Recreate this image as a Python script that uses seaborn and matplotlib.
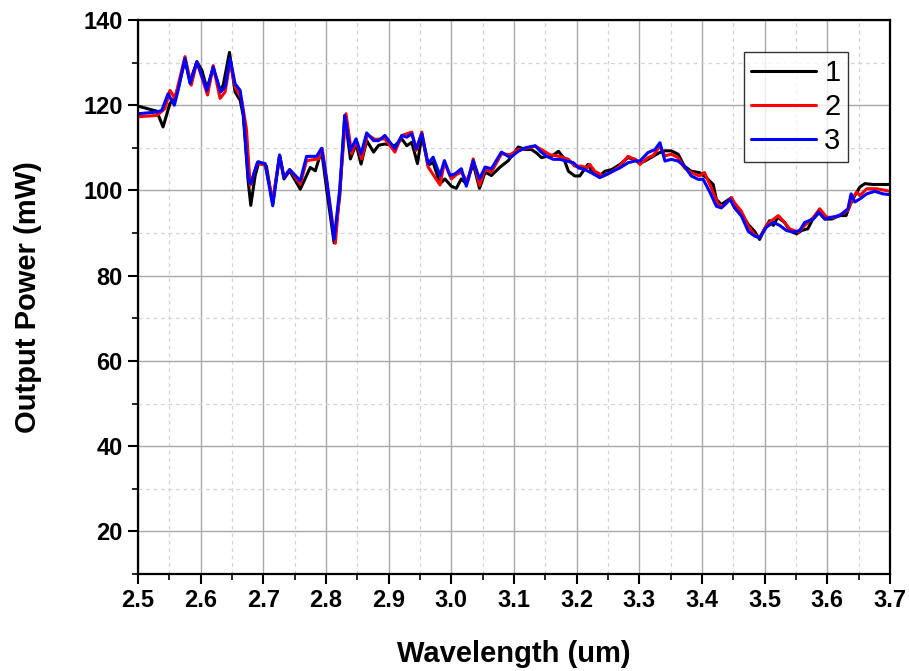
import matplotlib
matplotlib.use("Agg")
import matplotlib.pyplot as plt
from matplotlib.ticker import MultipleLocator, FormatStrFormatter
import numpy as np
import pandas as pd
import seaborn as sns

# Output power spectra for three measurements
wl_1 = [2.500, 2.530, 2.540, 2.551, 2.558, 2.564, 2.575, 2.583, 2.594, 2.602, 2.610, 2.620,
        2.631, 2.636, 2.646, 2.655, 2.663, 2.668, 2.676, 2.680, 2.687, 2.693, 2.705, 2.715,
        2.726, 2.733, 2.742, 2.759, 2.775, 2.783, 2.793, 2.801, 2.813, 2.822, 2.830, 2.839,
        2.848, 2.856, 2.865, 2.876, 2.884, 2.894, 2.910, 2.921, 2.929, 2.937, 2.946, 2.953,
        2.963, 2.971, 2.982, 2.990, 3.000, 3.008, 3.016, 3.024, 3.035, 3.045, 3.054, 3.064,
        3.078, 3.091, 3.107, 3.118, 3.128, 3.136, 3.144, 3.152, 3.160, 3.171, 3.179, 3.187,
        3.197, 3.205, 3.218, 3.226, 3.237, 3.245, 3.256, 3.269, 3.282, 3.293, 3.301, 3.309,
        3.323, 3.333, 3.341, 3.351, 3.362, 3.372, 3.383, 3.396, 3.407, 3.418, 3.423, 3.431,
        3.447, 3.452, 3.463, 3.474, 3.484, 3.492, 3.500, 3.508, 3.514, 3.521, 3.532, 3.540,
        3.551, 3.559, 3.569, 3.577, 3.588, 3.596, 3.607, 3.620, 3.630, 3.636, 3.644, 3.652,
        3.660, 3.673, 3.700]
power_1 = [119.8, 118.6, 114.9, 120.4, 121.6, 123.9, 130.6, 125.5, 130.2, 128.2, 123.9, 128.6,
           123.5, 124.7, 132.4, 123.1, 121.2, 117.6, 102.0, 96.5, 103.5, 106.7, 105.7, 96.8,
           108.2, 102.7, 104.6, 100.3, 105.4, 104.6, 109.4, 100.3, 87.7, 98.7, 117.6, 107.4,
           110.9, 106.2, 111.7, 109.0, 110.6, 110.9, 110.5, 112.1, 110.5, 111.3, 106.3, 112.9,
           105.9, 106.6, 101.6, 102.7, 101.0, 100.5, 102.7, 101.6, 106.3, 100.5, 104.3, 103.5,
           105.5, 107.0, 110.2, 109.6, 109.6, 108.8, 107.7, 108.0, 108.0, 109.2, 107.7, 104.5,
           103.4, 103.4, 106.1, 104.1, 103.4, 104.5, 104.9, 106.1, 107.7, 107.3, 106.5, 106.9,
           108.1, 108.9, 109.3, 109.3, 108.5, 105.7, 104.5, 104.2, 103.0, 101.4, 97.9, 96.7,
           98.3, 96.7, 94.7, 92.0, 90.4, 88.5, 91.0, 92.9, 91.8, 93.7, 92.5, 90.6,
           89.8, 90.6, 91.0, 93.3, 94.9, 93.3, 93.3, 94.1, 94.1, 96.5, 98.8, 100.8,
           101.6, 101.4, 101.4]

wl_2 = [2.500, 2.530, 2.543, 2.551, 2.559, 2.575, 2.585, 2.594, 2.611, 2.620, 2.631, 2.639,
        2.647, 2.655, 2.665, 2.673, 2.679, 2.690, 2.703, 2.715, 2.726, 2.733, 2.742, 2.759,
        2.769, 2.788, 2.794, 2.815, 2.832, 2.841, 2.848, 2.857, 2.866, 2.878, 2.894, 2.910,
        2.921, 2.937, 2.944, 2.953, 2.963, 2.982, 2.989, 3.000, 3.008, 3.016, 3.026, 3.035,
        3.045, 3.054, 3.064, 3.080, 3.094, 3.107, 3.118, 3.134, 3.144, 3.157, 3.173, 3.187,
        3.197, 3.208, 3.216, 3.221, 3.229, 3.243, 3.253, 3.269, 3.282, 3.293, 3.301, 3.314,
        3.322, 3.333, 3.341, 3.351, 3.362, 3.372, 3.383, 3.396, 3.404, 3.415, 3.426, 3.434,
        3.447, 3.452, 3.463, 3.474, 3.484, 3.492, 3.503, 3.511, 3.522, 3.527, 3.540, 3.554,
        3.564, 3.578, 3.588, 3.599, 3.612, 3.623, 3.633, 3.641, 3.647, 3.652, 3.663, 3.679,
        3.700]
power_2 = [117.3, 117.6, 119.2, 123.5, 121.6, 131.4, 124.7, 130.2, 122.4, 129.3, 121.6, 123.1,
           130.2, 124.3, 121.6, 114.5, 101.2, 106.3, 106.0, 97.6, 108.3, 103.0, 104.9, 101.5,
           107.0, 107.4, 109.8, 87.6, 118.0, 108.6, 111.7, 107.4, 113.1, 112.0, 112.1, 109.0,
           112.9, 113.7, 109.4, 113.7, 105.5, 101.3, 106.6, 102.7, 103.7, 104.3, 102.0, 107.4,
           101.2, 105.1, 104.3, 108.6, 108.4, 109.6, 109.8, 110.4, 109.6, 108.4, 108.0, 107.3,
           105.7, 105.7, 105.3, 106.1, 104.5, 103.4, 104.1, 105.7, 108.0, 107.3, 106.1, 107.7,
           108.2, 110.4, 108.1, 108.5, 107.7, 105.3, 104.2, 103.4, 104.2, 100.6, 96.7, 96.3,
           98.3, 97.1, 95.1, 91.6, 89.6, 88.9, 91.8, 92.9, 94.1, 93.3, 91.0, 90.2,
           91.8, 93.7, 95.7, 93.7, 93.7, 94.5, 95.3, 98.4, 99.6, 98.8, 100.4, 100.4,
           99.8]

wl_3 = [2.500, 2.530, 2.538, 2.548, 2.558, 2.564, 2.575, 2.583, 2.594, 2.610, 2.620, 2.632,
        2.639, 2.647, 2.655, 2.663, 2.668, 2.676, 2.680, 2.691, 2.703, 2.715, 2.726, 2.733,
        2.742, 2.759, 2.769, 2.785, 2.793, 2.801, 2.813, 2.822, 2.830, 2.839, 2.848, 2.856,
        2.865, 2.876, 2.884, 2.894, 2.910, 2.921, 2.929, 2.937, 2.944, 2.953, 2.963, 2.971,
        2.982, 2.989, 2.998, 3.006, 3.016, 3.024, 3.035, 3.045, 3.054, 3.064, 3.080, 3.094,
        3.107, 3.118, 3.134, 3.142, 3.152, 3.163, 3.173, 3.184, 3.195, 3.203, 3.213, 3.224,
        3.237, 3.248, 3.258, 3.269, 3.282, 3.293, 3.301, 3.314, 3.325, 3.333, 3.341, 3.351,
        3.362, 3.372, 3.383, 3.394, 3.402, 3.413, 3.423, 3.431, 3.445, 3.452, 3.463, 3.474,
        3.484, 3.492, 3.503, 3.514, 3.524, 3.535, 3.546, 3.556, 3.564, 3.578, 3.586, 3.596,
        3.607, 3.620, 3.633, 3.638, 3.644, 3.652, 3.663, 3.676, 3.689, 3.700]
power_3 = [118.0, 118.4, 118.8, 122.7, 120.0, 123.5, 131.0, 125.1, 130.2, 123.5, 129.0, 123.1,
           124.3, 131.0, 125.0, 123.5, 118.4, 102.7, 101.6, 106.7, 106.3, 96.4, 108.3, 103.0,
           104.9, 102.3, 108.0, 108.0, 109.9, 102.7, 88.5, 100.3, 117.6, 109.4, 112.1, 108.6,
           113.5, 111.7, 111.7, 112.9, 109.8, 112.9, 112.5, 113.3, 109.8, 113.3, 106.3, 107.8,
           103.5, 107.0, 103.5, 103.9, 105.1, 101.0, 107.0, 102.7, 105.5, 105.1, 109.0, 107.7,
           109.2, 110.0, 110.5, 109.2, 108.0, 107.3, 107.3, 106.9, 106.5, 105.3, 104.9, 104.1,
           103.0, 103.8, 104.5, 105.3, 106.5, 106.9, 106.9, 108.9, 109.6, 111.2, 106.9, 107.3,
           106.9, 105.7, 103.4, 102.6, 102.6, 99.5, 96.3, 95.9, 97.9, 95.9, 94.0, 90.4,
           89.3, 88.9, 91.4, 92.5, 91.8, 90.6, 90.2, 90.6, 92.5, 93.3, 94.9, 93.3,
           93.7, 94.1, 95.7, 99.2, 97.3, 98.0, 99.2, 99.8, 99.2, 99.0]

series_labels = ["1", "2", "3"]
series_colors = ["#000000", "#ff0000", "#0000ff"]

frames = []
for lab, wl, pw in zip(series_labels, [wl_1, wl_2, wl_3], [power_1, power_2, power_3]):
    frames.append(pd.DataFrame({"Wavelength": wl, "Power": pw, "Run": lab}))
data = pd.concat(frames, ignore_index=True)

sns.set_theme(style="ticks")
plt.rcParams["font.family"] = ["Liberation Sans", "DejaVu Sans"]
plt.rcParams["text.color"] = "black"
plt.rcParams["axes.labelcolor"] = "black"
plt.rcParams["xtick.color"] = "black"
plt.rcParams["ytick.color"] = "black"

fig = plt.figure(figsize=(9.09, 6.71), dpi=100)
ax = fig.add_axes([0.1518, 0.1446, 0.8272, 0.8256])

# minor/major grid underneath the curves
ax.set_axisbelow(True)
ax.xaxis.set_major_locator(MultipleLocator(0.1))
ax.xaxis.set_minor_locator(MultipleLocator(0.05))
ax.yaxis.set_major_locator(MultipleLocator(20))
ax.yaxis.set_minor_locator(MultipleLocator(10))
ax.grid(which="major", color="#a8a8a8", linestyle="-", linewidth=1.0)
ax.grid(which="minor", color="#d4d4d4", linestyle=(0, (3, 3)), linewidth=0.9)

sns.lineplot(data=data, x="Wavelength", y="Power", hue="Run",
             palette=dict(zip(series_labels, series_colors)),
             estimator=None, sort=False, linewidth=2.2, ax=ax)

ax.set_xlim(2.5, 3.7)
ax.set_ylim(10, 140)
ax.xaxis.set_major_formatter(FormatStrFormatter("%.1f"))
ax.set_yticks([20, 40, 60, 80, 100, 120, 140])

ax.tick_params(which="major", direction="out", length=7, width=1.5,
               labelsize=17, pad=4, color="black", labelcolor="black")
ax.tick_params(which="minor", direction="out", length=4, width=1.2, color="black")
for lbl in ax.get_xticklabels() + ax.get_yticklabels():
    lbl.set_fontweight("bold")

for side in ["left", "bottom", "right", "top"]:
    ax.spines[side].set_visible(True)
    ax.spines[side].set_color("black")
    ax.spines[side].set_linewidth(1.6)

ax.set_xlabel("Wavelength (um)", fontsize=21, fontweight="bold", labelpad=20)
ax.set_ylabel("Output Power (mW)", fontsize=21, fontweight="bold", labelpad=30)

leg = ax.legend(loc="upper right", bbox_to_anchor=(0.944, 0.942), fontsize=21,
                frameon=True, fancybox=False, handlelength=2.2, handletextpad=0.3,
                borderpad=0.25, labelspacing=0.2, borderaxespad=0)
leg.get_frame().set_edgecolor("black")
leg.get_frame().set_linewidth(1.0)
for line in leg.get_lines():
    line.set_linewidth(2.2)

fig.savefig("out.png", dpi=100, facecolor="white")
